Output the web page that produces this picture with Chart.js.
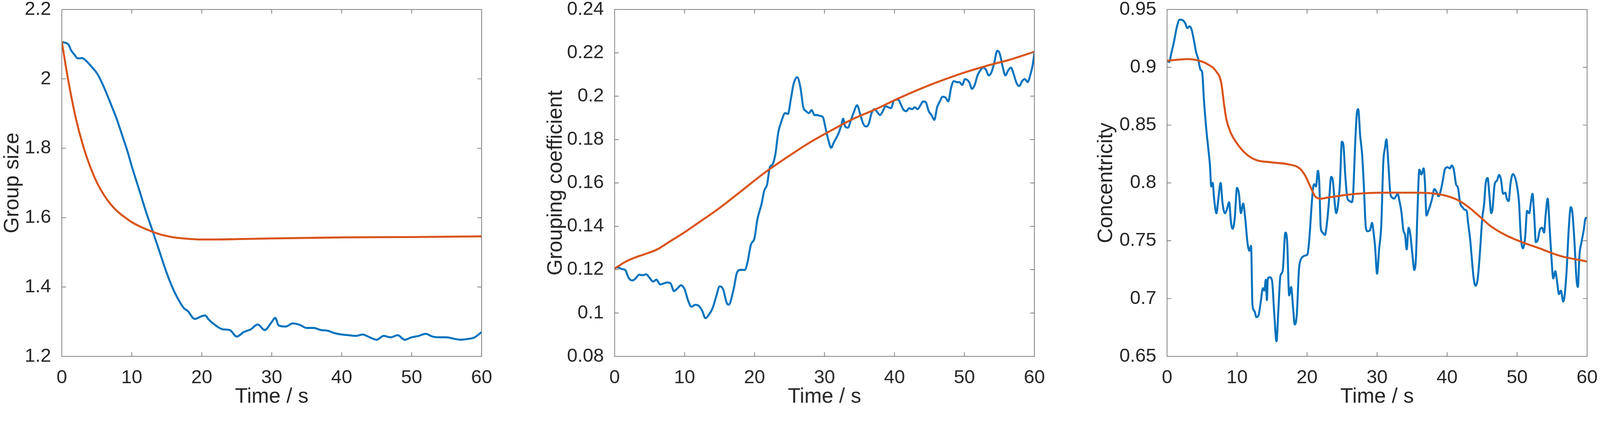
<!DOCTYPE html>
<html>
<head>
<meta charset="utf-8">
<script src="https://cdn.jsdelivr.net/npm/chart.js@4"></script>
<style>
  html, body { margin: 0; padding: 0; background: #ffffff; }
  html { overflow: hidden; }
  body { position: relative; width: 100vw; height: 100vh; overflow: hidden; }
  canvas { position: absolute; top: 0; }
</style>
</head>
<body>
<canvas id="c1"></canvas>
<canvas id="c2"></canvas>
<canvas id="c3"></canvas>
<script>
// ---------------- DATA ----------------
const xTicks = [0, 10, 20, 30, 40, 50, 60];

// Panel 1: Group size
const groupSizeTicks = [1.2, 1.4, 1.6, 1.8, 2, 2.2];
const groupSizeBlueT = [0, 0.95, 1.31, 1.8, 2.28, 2.89, 3.37, 4.34, 5.06, 5.8, 7, 7.85, 8.7, 9.42, 10, 11, 12, 13, 14, 15, 16, 17, 17.5, 18, 19, 20, 20.5, 21, 22, 23, 24, 25, 26, 27, 28, 29, 30, 30.5, 31, 32, 33, 34, 35, 36, 37, 38, 39, 40, 41, 42, 43, 44, 45, 46, 47, 48, 49, 50, 51, 52, 53, 54, 55, 56, 57, 58, 59, 60];
const groupSizeBlue = [2.106, 2.099, 2.083, 2.07, 2.059, 2.06, 2.054, 2.033, 2.015, 1.986, 1.928, 1.884, 1.833, 1.789, 1.748, 1.684, 1.619, 1.56, 1.50, 1.44, 1.39, 1.352, 1.338, 1.331, 1.308, 1.316, 1.318, 1.306, 1.289, 1.278, 1.276, 1.257, 1.27, 1.278, 1.292, 1.276, 1.299, 1.311, 1.289, 1.286, 1.295, 1.291, 1.282, 1.282, 1.276, 1.274, 1.267, 1.263, 1.261, 1.259, 1.263, 1.255, 1.248, 1.259, 1.255, 1.261, 1.248, 1.255, 1.259, 1.265, 1.257, 1.255, 1.255, 1.251, 1.248, 1.25, 1.255, 1.27];
const groupSizeOrangeT = [0, 0.5, 1, 2, 3, 4, 5, 6, 7, 8, 9, 10, 11, 12, 13, 14, 15, 16, 18, 20, 22, 25, 30, 40, 50, 60];
const groupSizeOrange = [2.108, 2.045, 1.987, 1.887, 1.81, 1.75, 1.702, 1.666, 1.638, 1.617, 1.601, 1.587, 1.576, 1.567, 1.559, 1.552, 1.547, 1.543, 1.539, 1.537, 1.537, 1.538, 1.540, 1.543, 1.544, 1.546];

// Panel 2: Grouping coefficient
const groupingTicks = [0.08, 0.1, 0.12, 0.14, 0.16, 0.18, 0.2, 0.22, 0.24];
const groupingBlueT = [0, 0.52, 1, 1.51, 1.99, 2.51, 2.99, 3.51, 3.98, 4.5, 4.98, 5.5, 5.98, 6.49, 7.01, 7.49, 8.01, 8.49, 9, 9.48, 10, 10.52, 11, 11.51, 11.99, 12.51, 12.99, 13.51, 13.98, 14.5, 15.02, 15.5, 16.02, 16.3, 17.01, 17.49, 18.01, 18.61, 19, 19.48, 20, 20.4, 21, 21.39, 21.79, 22.19, 22.59, 22.99, 23.39, 23.78, 24.38, 24.78, 25.18, 25.58, 26.1, 26.57, 26.97, 27.37, 27.77, 28.17, 28.57, 28.96, 29.36, 29.76, 30.16, 30.56, 30.96, 31.35, 31.95, 32.35, 32.67, 32.95, 33.35, 33.75, 34.14, 34.66, 35.14, 35.54, 35.94, 36.33, 36.73, 37.13, 37.53, 37.93, 38.33, 38.73, 39.12, 39.52, 39.92, 40.52, 40.92, 41.24, 41.71, 42.11, 42.51, 42.91, 43.31, 43.71, 44.1, 44.5, 44.9, 45.3, 45.7, 46.1, 46.49, 46.89, 47.29, 47.69, 48.09, 48.49, 48.88, 49.28, 49.68, 50.08, 50.68, 51.08, 51.47, 51.87, 52.27, 52.67, 53.07, 53.47, 53.86, 54.26, 54.7, 55.06, 55.46, 55.86, 56.25, 56.65, 57.05, 57.45, 57.85, 58.25, 58.65, 59.04, 59.44, 59.72, 60];
const groupingBlue = [0.1208, 0.121, 0.1203, 0.1199, 0.1163, 0.115, 0.1159, 0.1177, 0.1174, 0.1179, 0.1163, 0.1145, 0.1154, 0.1132, 0.1136, 0.1141, 0.1136, 0.1101, 0.1114, 0.1128, 0.111, 0.1056, 0.1029, 0.1038, 0.1034, 0.1011, 0.0976, 0.0994, 0.102, 0.1074, 0.1123, 0.111, 0.1047, 0.1038, 0.111, 0.1186, 0.1199, 0.1199, 0.1235, 0.1315, 0.1346, 0.1431, 0.1503, 0.1565, 0.1592, 0.1672, 0.1686, 0.1735, 0.1833, 0.1878, 0.1922, 0.1918, 0.1985, 0.2056, 0.2088, 0.2038, 0.1949, 0.1931, 0.1922, 0.1936, 0.1913, 0.1913, 0.1909, 0.1904, 0.1851, 0.1797, 0.1762, 0.1788, 0.1824, 0.186, 0.1896, 0.186, 0.1855, 0.1887, 0.1922, 0.1958, 0.1913, 0.1873, 0.186, 0.1873, 0.1922, 0.194, 0.1927, 0.1913, 0.1931, 0.1954, 0.1949, 0.1945, 0.198, 0.1985, 0.1962, 0.194, 0.1931, 0.1945, 0.194, 0.1949, 0.194, 0.1958, 0.1976, 0.1971, 0.1931, 0.1913, 0.1891, 0.1949, 0.1976, 0.1998, 0.1994, 0.1976, 0.2038, 0.207, 0.2065, 0.2065, 0.2052, 0.2079, 0.2065, 0.2034, 0.2052, 0.2096, 0.2119, 0.2132, 0.2123, 0.2096, 0.211, 0.2154, 0.221, 0.2195, 0.2137, 0.2096, 0.2119, 0.2132, 0.2101, 0.2061, 0.2047, 0.207, 0.2079, 0.2065, 0.2101, 0.2137, 0.2197];
const groupingOrangeT = [0, 0.5, 1.47, 2.67, 4.26, 6.06, 7.85, 9.84, 11.83, 15.02, 18.2, 21.4, 24.58, 27.77, 30.96, 34.14, 37.33, 40.52, 43.71, 46.89, 50.08, 53.27, 56.45, 60];
const groupingOrange = [0.1205, 0.1215, 0.1235, 0.1253, 0.1271, 0.1293, 0.1329, 0.1369, 0.1413, 0.1485, 0.1565, 0.1646, 0.1717, 0.1784, 0.1842, 0.1896, 0.194, 0.1989, 0.2034, 0.2074, 0.211, 0.2141, 0.2168, 0.2205];

// Panel 3: Concentricity
const concTicks = [0.65, 0.7, 0.75, 0.8, 0.85, 0.9, 0.95];
const concBlueT = [0, 0.3, 0.6, 1.0, 1.4, 1.8, 2.2, 2.6, 2.9, 3.2, 3.5, 3.8, 4.15, 4.43, 4.75, 5.03, 5.24, 5.56, 5.84, 6.12, 6.32, 6.52, 6.72, 7.05, 7.33, 7.65, 7.93, 8.26, 8.54, 8.86, 9.14, 9.38, 9.67, 9.99, 10.27, 10.55, 10.87, 11.16, 11.48, 11.76, 12.0, 12.2, 12.48, 12.77, 13.09, 13.37, 13.69, 13.9, 14.1, 14.26, 14.4, 14.7, 15.0, 15.3, 15.63, 15.9, 16.19, 16.51, 16.9, 17.16, 17.44, 17.72, 18.0, 18.24, 18.53, 18.85, 19.13, 19.4, 19.73, 20.06, 20.34, 20.62, 20.86, 21.06, 21.27, 21.55, 21.75, 21.95, 22.23, 22.55, 22.88, 23.16, 23.44, 23.68, 23.96, 24.16, 24.4, 24.69, 24.97, 25.2, 25.45, 25.77, 26.1, 26.38, 26.58, 26.86, 27.1, 27.3, 27.59, 27.87, 28.1, 28.4, 28.67, 29.0, 29.28, 29.52, 29.72, 30.0, 30.29, 30.6, 30.89, 31.13, 31.33, 31.6, 31.9, 32.14, 32.42, 32.7, 32.94, 33.2, 33.5, 33.75, 34.0, 34.23, 34.5, 34.76, 35.04, 35.32, 35.56, 35.76, 36.04, 36.33, 36.65, 36.85, 37.05, 37.33, 37.57, 37.86, 38.18, 38.46, 38.78, 39.07, 39.39, 39.67, 40.07, 40.4, 40.67, 40.96, 41.28, 41.56, 41.88, 42.2, 42.5, 42.8, 43.0, 43.3, 43.57, 43.8, 44.06, 44.38, 44.7, 45.03, 45.3, 45.5, 45.8, 46.03, 46.31, 46.5, 46.8, 47.12, 47.44, 47.7, 48.0, 48.33, 48.53, 48.8, 49.05, 49.4, 49.74, 50.0, 50.26, 50.54, 50.83, 51.15, 51.43, 51.75, 51.95, 52.2, 52.43, 52.68, 52.96, 53.24, 53.57, 53.85, 54.1, 54.37, 54.65, 54.9, 55.17, 55.46, 55.7, 55.98, 56.26, 56.59, 56.79, 57.07, 57.39, 57.67, 57.91, 58.2, 58.48, 58.68, 58.92, 59.2, 59.52, 59.8, 60.0];
const concBlue = [0.9056, 0.9046, 0.912, 0.9224, 0.935, 0.9412, 0.9408, 0.938, 0.9339, 0.9354, 0.9328, 0.9245, 0.913, 0.9077, 0.8983, 0.8952, 0.8743, 0.8492, 0.8324, 0.8157, 0.7969, 0.8, 0.7864, 0.7738, 0.7864, 0.8, 0.7822, 0.7738, 0.7769, 0.7833, 0.7655, 0.7603, 0.7697, 0.7958, 0.7906, 0.7738, 0.7822, 0.7697, 0.7487, 0.7414, 0.7456, 0.6944, 0.6892, 0.6839, 0.686, 0.6965, 0.709, 0.7069, 0.7163, 0.6986, 0.7174, 0.7184, 0.7153, 0.6881, 0.663, 0.6902, 0.7195, 0.7237, 0.7571, 0.7487, 0.7027, 0.71, 0.6923, 0.6776, 0.686, 0.7258, 0.7341, 0.7362, 0.7372, 0.7383, 0.7529, 0.778, 0.7958, 0.7989, 0.7969, 0.8105, 0.7989, 0.7613, 0.7571, 0.755, 0.7676, 0.7864, 0.8052, 0.8021, 0.7822, 0.7738, 0.78, 0.7989, 0.8356, 0.8324, 0.8073, 0.7864, 0.7843, 0.7833, 0.7906, 0.8324, 0.8596, 0.8638, 0.8408, 0.8241, 0.7989, 0.7613, 0.7582, 0.7592, 0.7655, 0.7561, 0.7446, 0.7215, 0.7425, 0.7634, 0.8178, 0.8303, 0.8377, 0.8178, 0.7906, 0.7874, 0.7864, 0.7885, 0.7906, 0.7843, 0.7738, 0.7592, 0.755, 0.7425, 0.7613, 0.755, 0.7383, 0.7247, 0.7362, 0.7738, 0.8115, 0.8073, 0.8126, 0.7989, 0.7718, 0.7759, 0.7801, 0.7864, 0.7948, 0.7927, 0.7885, 0.7927, 0.8021, 0.8115, 0.8136, 0.8126, 0.8151, 0.8115, 0.7989, 0.7958, 0.7822, 0.779, 0.7769, 0.7759, 0.7655, 0.751, 0.7322, 0.7174, 0.7111, 0.7174, 0.7404, 0.7697, 0.7822, 0.7989, 0.8042, 0.7906, 0.7738, 0.778, 0.7989, 0.802, 0.8069, 0.8031, 0.7906, 0.7916, 0.7864, 0.7843, 0.7989, 0.8077, 0.8042, 0.7969, 0.7843, 0.7529, 0.7435, 0.7529, 0.7759, 0.7738, 0.7822, 0.7906, 0.7738, 0.7487, 0.7508, 0.7592, 0.7613, 0.7571, 0.7738, 0.7864, 0.7613, 0.7362, 0.7174, 0.7237, 0.7153, 0.7038, 0.7069, 0.6975, 0.7027, 0.7237, 0.7613, 0.7791, 0.7738, 0.7487, 0.7174, 0.71, 0.7383, 0.7487, 0.7592, 0.7697, 0.7697];
const concOrangeT = [0, 2.8, 4.43, 5.84, 7.05, 7.73, 8.14, 8.46, 9.06, 10.07, 11.28, 12.69, 14.9, 17.32, 18.93, 19.73, 20.54, 21.14, 21.95, 22.96, 26.98, 31.0, 35.04, 37.86, 39.87, 41.48, 43.09, 44.7, 46.31, 48.33, 50.75, 53.16, 55.98, 60];
const concOrange = [0.9056, 0.9071, 0.906, 0.9025, 0.8962, 0.8868, 0.868, 0.8554, 0.8439, 0.8335, 0.8251, 0.8199, 0.8178, 0.8161, 0.8126, 0.8063, 0.7958, 0.7885, 0.7864, 0.7874, 0.7906, 0.7916, 0.7916, 0.791, 0.7889, 0.7853, 0.779, 0.7707, 0.7623, 0.755, 0.7487, 0.7435, 0.7372, 0.732];

// ---------------- STYLE / LAYOUT (in reference pixels) ----------------
const BLUE = '#0072BD';
const ORANGE = '#D95319';
const TEXT = '#262626';
const AXIS = '#7d7d7d';
const FONT = "'Liberation Sans', Arial, Helvetica, sans-serif";

const REF_W = 4212;
const IW = window.innerWidth || document.documentElement.clientWidth || REF_W;
const K = IW > 100 ? IW / REF_W : 1;   // CSS px per reference px
const DPR = window.devicePixelRatio || 1;

const TICK_SIZE = 50 * K;
const LABEL_SIZE = 55 * K;
const PLOT_W = 1105.5 * K;
const PLOT_TOP = 25 * K;
const PLOT_BOTTOM = 939.3 * K;
const CANVAS_H = 1084 * K;
const X_AXIS_H = 140 * K;
const LINE_W = 5.2 * K;

function pts(t, v) { return t.map((x, i) => ({ x: x, y: v[i] })); }

const boxPlugin = {
  id: 'matlabBox',
  afterDatasetsDraw(chart) {
    const { ctx, chartArea: a, scales } = chart;
    ctx.save();
    ctx.strokeStyle = AXIS;
    ctx.lineWidth = 2 * K;
    const L = 11 * K;
    ctx.beginPath();
    scales.x.ticks.forEach(tk => {
      const px = scales.x.getPixelForValue(tk.value);
      if (Math.abs(px - a.left) < 1 || Math.abs(px - a.right) < 1) return;
      ctx.moveTo(px, a.bottom); ctx.lineTo(px, a.bottom - L);
      ctx.moveTo(px, a.top); ctx.lineTo(px, a.top + L);
    });
    scales.y.ticks.forEach(tk => {
      const py = scales.y.getPixelForValue(tk.value);
      if (Math.abs(py - a.top) < 1 || Math.abs(py - a.bottom) < 1) return;
      ctx.moveTo(a.left, py); ctx.lineTo(a.left + L, py);
      ctx.moveTo(a.right, py); ctx.lineTo(a.right - L, py);
    });
    ctx.stroke();
    ctx.strokeRect(a.left, a.top, a.right - a.left, a.bottom - a.top);
    ctx.restore();
  }
};

function makeChart(id, leftRef, yAxisWRef, yLabel, yTicks, blue, orange) {
  const cv = document.getElementById(id);
  const yAxisW = yAxisWRef * K;
  const w = yAxisW + PLOT_W + 34 * K;
  cv.style.left = (leftRef * K) + 'px';
  cv.style.width = w + 'px';
  cv.style.height = CANVAS_H + 'px';
  cv.width = Math.round(w * DPR);
  cv.height = Math.round(CANVAS_H * DPR);
  const padRight = w - yAxisW - PLOT_W;
  const padBottom = CANVAS_H - PLOT_BOTTOM - X_AXIS_H;
  const zeroPad = s => { s.paddingLeft = 0; s.paddingRight = 0; s.paddingTop = 0; s.paddingBottom = 0; };
  return new Chart(cv, {
    type: 'line',
    data: {
      datasets: [
        { data: blue, borderColor: BLUE, borderWidth: LINE_W, pointRadius: 0, cubicInterpolationMode: 'monotone', order: 2, fill: false },
        { data: orange, borderColor: ORANGE, borderWidth: LINE_W, pointRadius: 0, cubicInterpolationMode: 'monotone', order: 1, fill: false }
      ]
    },
    options: {
      responsive: false,
      maintainAspectRatio: false,
      animation: false,
      devicePixelRatio: DPR,
      events: [],
      layout: { padding: { top: PLOT_TOP, right: padRight, bottom: padBottom, left: 0 } },
      plugins: { legend: { display: false }, tooltip: { enabled: false } },
      scales: {
        x: {
          type: 'linear', min: 0, max: 60,
          afterBuildTicks: s => { s.ticks = xTicks.map(v => ({ value: v })); },
          afterFit: s => { s.height = X_AXIS_H; zeroPad(s); },
          grid: { display: false }, border: { display: false },
          ticks: { padding: 18.7 * K, color: TEXT, font: { family: FONT, size: TICK_SIZE }, maxRotation: 0, callback: v => String(v) },
          title: { display: true, text: 'Time / s', color: TEXT, padding: 0, font: { family: FONT, size: LABEL_SIZE } }
        },
        y: {
          type: 'linear', min: yTicks[0], max: yTicks[yTicks.length - 1],
          afterBuildTicks: s => { s.ticks = yTicks.map(v => ({ value: v })); },
          afterFit: s => { s.width = yAxisW; zeroPad(s); },
          grid: { display: false }, border: { display: false },
          ticks: { padding: 20 * K, color: TEXT, font: { family: FONT, size: TICK_SIZE }, callback: v => String(v) },
          title: { display: true, text: yLabel, color: TEXT, padding: 0, font: { family: FONT, size: LABEL_SIZE } }
        }
      }
    },
    plugins: [boxPlugin]
  });
}

makeChart('c1', 0, 162.7, 'Group size', groupSizeTicks, pts(groupSizeBlueT, groupSizeBlue), pts(groupSizeOrangeT, groupSizeOrange));
makeChart('c2', 1430, 187.7, 'Grouping coefficient', groupingTicks, pts(groupingBlueT, groupingBlue), pts(groupingOrangeT, groupingOrange));
makeChart('c3', 2879, 193, 'Concentricity', concTicks, pts(concBlueT, concBlue), pts(concOrangeT, concOrange));
</script>
</body>
</html>
